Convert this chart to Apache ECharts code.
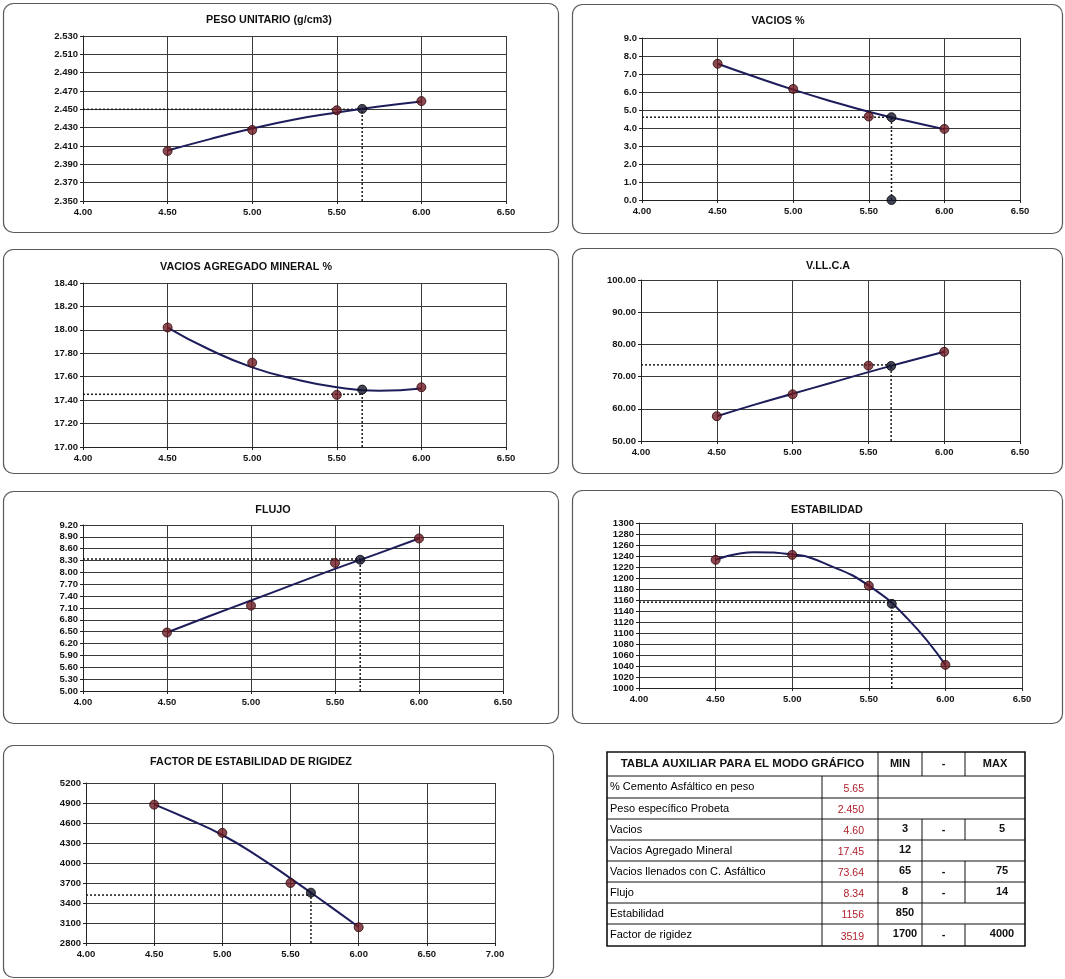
<!DOCTYPE html>
<html>
<head>
<meta charset="utf-8">
<script src="https://cdn.jsdelivr.net/npm/echarts@6/dist/echarts.min.js"></script>
<style>
  html, body { margin: 0; padding: 0; background: #ffffff; }
  #main { width: 1065px; height: 979px; }
</style>
</head>
<body>
<div id="main"></div>
<script>
// % de cemento asfáltico de las briquetas ensayadas
const pctCA = [4.5, 5.0, 5.5, 6.0];
// abscisas en que se lee cada curva de ajuste
const curvaCA = [4.5, 4.75, 5.0, 5.25, 5.5, 5.75, 6.0];
// contenido óptimo de cemento asfáltico
const cementoOptimo = 5.65;

// Peso unitario (g/cm3)
const pesoUnitario = [2.4045, 2.4275, 2.449, 2.459];
const pesoUnitarioCurva = [2.405, 2.4175, 2.429, 2.439, 2.4465, 2.453, 2.4585];
const pesoUnitarioOptimo = 2.4505;

// Vacíos %
const vacios = [7.57, 6.17, 4.64, 3.95];
const vaciosCurva = [7.57, 6.83, 6.13, 5.49, 4.9, 4.4, 3.93];
const vaciosOptimo = 4.6;

// Vacíos agregado mineral %
const vam = [18.02, 17.72, 17.445, 17.51];
const vamCurva = [18.02, 17.83, 17.68, 17.58, 17.51, 17.48, 17.5];
const vamOptimo = 17.49;

// Vacíos llenados con cemento asfáltico
const vllca = [57.7, 64.5, 73.4, 77.7];
const vllcaCurva = [57.7, 61.3, 64.7, 68.0, 71.4, 74.6, 77.7];
const vllcaOptimo = 73.3;

// Flujo
const flujo = [6.48, 7.16, 8.24, 8.86];
const flujoCurva = [6.48, 6.89, 7.29, 7.69, 8.09, 8.47, 8.86];
const flujoOptimo = 8.32;

// Estabilidad
const estabilidad = [1233, 1242, 1186, 1042];
const estabilidadCurva = [1233, 1247, 1243, 1222, 1186, 1127, 1042];
const estabilidadOptimo = 1153;

// Factor de estabilidad de rigidez
const rigidez = [4875, 4452, 3700, 3036];
const rigidezCurva = [4880, 4660, 4420, 4115, 3770, 3410, 3040];
const rigidezOptimo = 3555;

// Tabla auxiliar para el modo gráfico
const tablaTitulo = 'TABLA AUXILIAR PARA EL MODO GRÁFICO';
const tablaCabecera = ['MIN', '-', 'MAX'];
const tablaParametros = ['% Cemento Asfáltico en peso', 'Peso específico Probeta', 'Vacios',
  'Vacios Agregado Mineral', 'Vacios llenados con C. Asfáltico', 'Flujo', 'Estabilidad', 'Factor de rigidez'];
const tablaValores = ['5.65', '2.450', '4.60', '17.45', '73.64', '8.34', '1156', '3519'];
const tablaMin = ['', '', '3', '12', '65', '8', '850', '1700'];
const tablaMax = ['', '', '5', '', '75', '14', '', '4000'];

const graficos = [
  { titulo: 'PESO UNITARIO (g/cm3)', puntos: pesoUnitario, curva: pesoUnitarioCurva, optimo: pesoUnitarioOptimo,
    lectura: 2.450, yMin: 2.35, yMax: 2.53, yPaso: 0.02, dec: 3, xMax: 6.5 },
  { titulo: 'VACIOS %', puntos: vacios, curva: vaciosCurva, optimo: vaciosOptimo,
    lectura: 4.60, yMin: 0, yMax: 9, yPaso: 1, dec: 1, xMax: 6.5, puntoBase: true },
  { titulo: 'VACIOS AGREGADO MINERAL %', puntos: vam, curva: vamCurva, optimo: vamOptimo,
    lectura: 17.45, yMin: 17, yMax: 18.4, yPaso: 0.2, dec: 2, xMax: 6.5 },
  { titulo: 'V.LL.C.A', puntos: vllca, curva: vllcaCurva, optimo: vllcaOptimo,
    lectura: 73.64, yMin: 50, yMax: 100, yPaso: 10, dec: 2, xMax: 6.5 },
  { titulo: 'FLUJO', puntos: flujo, curva: flujoCurva, optimo: flujoOptimo,
    lectura: 8.34, yMin: 5, yMax: 9.2, yPaso: 0.3, dec: 2, xMax: 6.5 },
  { titulo: 'ESTABILIDAD', puntos: estabilidad, curva: estabilidadCurva, optimo: estabilidadOptimo,
    lectura: 1156, yMin: 1000, yMax: 1300, yPaso: 20, dec: 0, xMax: 6.5 },
  { titulo: 'FACTOR DE ESTABILIDAD DE RIGIDEZ', puntos: rigidez, curva: rigidezCurva, optimo: rigidezOptimo,
    lectura: 3519, yMin: 2800, yMax: 5200, yPaso: 300, dec: 0, xMax: 7 }
];

// Ubicación de los recuadros, áreas de trazado y títulos (px)
const ubicacion = [
  { caja: [3, 3, 555, 229],   area: [83, 36, 423, 165],  titulo: [269, 20] },
  { caja: [572, 4, 490, 229], area: [642, 38, 378, 162], titulo: [778, 21] },
  { caja: [3, 249, 555, 224], area: [83, 283, 423, 164], titulo: [246, 267] },
  { caja: [572, 248, 490, 225], area: [641, 280, 379, 161], titulo: [828, 266] },
  { caja: [3, 491, 555, 232], area: [83, 525, 420, 166], titulo: [273, 510] },
  { caja: [572, 490, 490, 233], area: [639, 523, 383, 165], titulo: [827, 510] },
  { caja: [3, 745, 550, 232], area: [86, 783, 409, 160], titulo: [251, 762] }
];

const FUENTE = '"Liberation Sans", Arial, sans-serif';
const COLOR_PUNTO = '#6e1a22';
const COLOR_CURVA = '#1d1d5c';
const COLOR_OPTIMO = '#15152e';
const COLOR_REJILLA = '#3a3a3a';

const grids = [], xAxes = [], yAxes = [], series = [], graphic = [];

graficos.forEach((g, i) => {
  const u = ubicacion[i];
  grids.push({ left: u.area[0], top: u.area[1], width: u.area[2], height: u.area[3], containLabel: false });

  const etiqueta = {
    fontFamily: FUENTE, fontSize: 9.5, fontWeight: 'bold', color: '#151515'
  };
  xAxes.push({
    type: 'value', gridIndex: i, min: 4, max: g.xMax, interval: 0.5,
    axisLine: { show: true, onZero: false, lineStyle: { color: '#222', width: 1 } },
    axisTick: { show: true, length: 3, lineStyle: { color: '#222' } },
    splitLine: { show: true, lineStyle: { color: COLOR_REJILLA, width: 1 } },
    axisLabel: Object.assign({ margin: 6, formatter: v => v.toFixed(2) }, etiqueta)
  });
  yAxes.push({
    type: 'value', gridIndex: i, min: g.yMin, max: g.yMax, interval: g.yPaso,
    axisLine: { show: true, onZero: false, lineStyle: { color: '#222', width: 1 } },
    axisTick: { show: true, length: 3, lineStyle: { color: '#222' } },
    splitLine: { show: true, lineStyle: { color: COLOR_REJILLA, width: 1 } },
    axisLabel: Object.assign({ margin: 5, formatter: v => v.toFixed(g.dec) }, etiqueta)
  });

  // líneas punteadas de lectura en el contenido óptimo
  series.push({
    type: 'line', xAxisIndex: i, yAxisIndex: i, symbol: 'none', silent: true, z: 3,
    data: [[4, g.lectura], [cementoOptimo, g.lectura]],
    lineStyle: { color: '#1a1a1a', width: 1.5, type: [2, 2] }
  });
  series.push({
    type: 'line', xAxisIndex: i, yAxisIndex: i, symbol: 'none', silent: true, z: 3,
    data: [[cementoOptimo, g.yMin], [cementoOptimo, g.optimo]],
    lineStyle: { color: '#1a1a1a', width: 1.5, type: [2, 2] }
  });
  // curva de ajuste
  series.push({
    type: 'line', xAxisIndex: i, yAxisIndex: i, smooth: 0.5,
    symbol: 'none', z: 4,
    data: curvaCA.map((x, k) => [x, g.curva[k]]),
    lineStyle: { color: COLOR_CURVA, width: 2 }
  });
  // resultados de ensayo
  series.push({
    type: 'scatter', xAxisIndex: i, yAxisIndex: i, symbolSize: 9, z: 5,
    data: pctCA.map((x, k) => [x, g.puntos[k]]),
    itemStyle: { color: COLOR_PUNTO, borderColor: '#2a0a0e', borderWidth: 1 }
  });
  // punto en el contenido óptimo
  const optimos = [[cementoOptimo, g.optimo]];
  if (g.puntoBase) optimos.push([cementoOptimo, g.yMin]);
  series.push({
    type: 'scatter', xAxisIndex: i, yAxisIndex: i, symbolSize: 9, z: 6,
    data: optimos,
    itemStyle: { color: COLOR_OPTIMO, borderColor: '#000', borderWidth: 1 }
  });

  graphic.push({
    type: 'rect', silent: true,
    shape: { x: u.caja[0] + 0.5, y: u.caja[1] + 0.5, width: u.caja[2], height: u.caja[3], r: 10 },
    style: { fill: 'none', stroke: '#5a5a5a', lineWidth: 1.2 }
  });
  graphic.push({
    type: 'text', silent: true, x: u.titulo[0], y: u.titulo[1],
    style: { text: g.titulo, font: 'bold 10.8px ' + FUENTE, fill: '#111',
      align: 'center', verticalAlign: 'middle', textAlign: 'center', textVerticalAlign: 'middle' }
  });
});

// Tabla auxiliar
const colX = [607, 822, 878, 922, 965, 1025];
const filaY = [752, 776, 798, 819, 840, 861, 882, 903, 924, 946];
function linea(x1, y1, x2, y2, w) {
  graphic.push({ type: 'line', silent: true, shape: { x1, y1, x2, y2 },
    style: { stroke: '#111', lineWidth: w || 1 } });
}
function texto(t, x, y, alinear, color, negrita, tam) {
  graphic.push({ type: 'text', silent: true, x, y,
    style: { text: t, font: (negrita ? 'bold ' : '') + (tam || 10.5) + 'px ' + FUENTE, fill: color || '#111',
      align: alinear, verticalAlign: 'middle', textAlign: alinear, textVerticalAlign: 'middle' } });
}
graphic.push({ type: 'rect', silent: true,
  shape: { x: colX[0], y: filaY[0], width: colX[5] - colX[0], height: filaY[9] - filaY[0] },
  style: { fill: 'none', stroke: '#111', lineWidth: 1.6 } });
for (let r = 1; r < filaY.length - 1; r++) linea(colX[0], filaY[r], colX[5], filaY[r]);
linea(colX[1], filaY[1], colX[1], filaY[9]);
linea(colX[2], filaY[0], colX[2], filaY[9]);
linea(colX[3], filaY[0], colX[3], filaY[1]);
linea(colX[4], filaY[0], colX[4], filaY[1]);
texto(tablaTitulo, (colX[0] + colX[2]) / 2, (filaY[0] + filaY[1]) / 2, 'center', '#111', true, 11.5);
tablaCabecera.forEach((t, c) => texto(t, (colX[c + 2] + colX[c + 3]) / 2, (filaY[0] + filaY[1]) / 2, 'center', '#111', true, 11));
tablaParametros.forEach((p, r) => {
  const y0 = filaY[r + 1], y1 = filaY[r + 2], ym = (y0 + y1) / 2;
  texto(p, colX[0] + 3, ym, 'left', '#000', false, 11);
  texto(tablaValores[r], colX[2] - 14, ym + 2, 'right', '#b0202c', false, 10.5);
  if (tablaMin[r]) {
    linea(colX[3], y0, colX[3], y1);
    texto(tablaMin[r], colX[2] + 27, ym - 1, 'center', '#111', true, 11);
  }
  if (tablaMax[r]) {
    linea(colX[4], y0, colX[4], y1);
    texto('-', (colX[3] + colX[4]) / 2, ym, 'center', '#111', true, 11);
    texto(tablaMax[r], colX[4] + 37, ym - 1, 'center', '#111', true, 11);
  }
});

const chart = echarts.init(document.getElementById('main'), null, { renderer: 'canvas' });
chart.setOption({
  backgroundColor: '#ffffff',
  animation: false,
  grid: grids,
  xAxis: xAxes,
  yAxis: yAxes,
  series: series,
  graphic: graphic
});
</script>
</body>
</html>
